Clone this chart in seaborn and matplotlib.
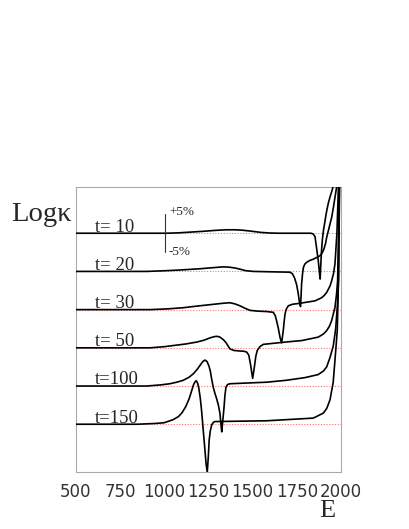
import numpy as np
import pandas as pd
import matplotlib
matplotlib.use("Agg")
import matplotlib.pyplot as plt
import seaborn as sns

# ---- data : E and relative deviation of log kappa in % ----
labels = ["t= 10", "t= 20", "t= 30", "t= 50", "t=100", "t=150"]
offsets = [50, 40, 30, 20, 10, 0]

E_t10 = [500, 1013, 1080, 1150, 1220, 1290, 1350, 1400, 1440, 1480, 1515, 1550, 1600, 1650,
         1830, 1843, 1853, 1862, 1871, 1877, 1882, 1886, 1890, 1895, 1901, 1909, 1915, 1922,
         1930, 1940, 1950, 1956, 1963]
v_t10 = [0, 0, 0.1, 0.3, 0.5, 0.75, 0.9, 0.9, 0.8, 0.6, 0.4, 0.2, 0.05, 0,
         0, -0.2, -0.9, -3.9, -7.0, -9.8, -12.0, -8.0, -4.5, -1.5, 0.8, 3.0, 4.8, 6.5,
         8.2, 9.8, 11.3, 12.4, 16]

E_t20 = [500, 900, 1013, 1100, 1202, 1280, 1334, 1370, 1400, 1428, 1460, 1504, 1600, 1711,
         1725, 1738, 1749, 1757, 1764, 1771, 1774, 1777, 1782, 1787, 1795, 1806, 1825, 1843,
         1865, 1881, 1893, 1903, 1912, 1919, 1933, 1947, 1958, 1966, 1975, 1980]
v_t20 = [0, 0, 0.2, 0.4, 0.7, 1.0, 1.2, 1.1, 0.9, 0.6, 0.2, 0, -0.1, -0.2,
         -0.6, -1.8, -3.5, -5.5, -7.8, -9.2, -6.5, -3.3, -0.8, 1.0, 1.9, 2.4, 2.9, 3.2,
         3.7, 4.1, 4.8, 5.8, 7.2, 8.9, 11.5, 14.1, 17, 19.4, 22, 30]

E_t30 = [500, 920, 1020, 1107, 1180, 1240, 1300, 1340, 1372, 1400, 1428, 1455, 1485, 1530,
         1579, 1617, 1628, 1636, 1645, 1655, 1664, 1673, 1678, 1683, 1690, 1702, 1725, 1758,
         1800, 1853, 1890, 1905, 1919, 1938, 1947, 1958, 1966, 1977, 1986]
v_t30 = [0, 0, 0.2, 0.5, 0.9, 1.2, 1.5, 1.7, 1.8, 1.5, 1.0, 0.4, -0.2, -0.4,
         -0.5, -0.7, -1.6, -3.0, -4.8, -7.3, -8.7, -5.6, -3.3, -1.2, 0.1, 1.0, 1.4, 1.6,
         1.9, 2.3, 3.1, 3.7, 4.5, 6.2, 7.5, 9.5, 12, 20, 33]

E_t50 = [500, 919, 1000, 1051, 1120, 1183, 1225, 1258, 1285, 1300, 1315, 1335, 1350, 1362,
         1372, 1395, 1420, 1450, 1466, 1478, 1489, 1495, 1500, 1505, 1511, 1518, 1526, 1541,
         1560, 1620, 1683, 1778, 1871, 1900, 1919, 1935, 1947, 1966, 1975, 1981, 1990]
v_t50 = [0, 0, 0.3, 0.6, 1.0, 1.5, 2.0, 2.6, 2.95, 3.0, 2.8, 2.1, 1.3, 0.4,
         -0.3, -0.7, -0.8, -0.9, -1.1, -1.9, -4.6, -6.5, -8.0, -6.5, -4.6, -2.2, -0.7, 0.3,
         0.9, 1.2, 1.5, 1.9, 2.8, 3.6, 4.5, 5.7, 7.1, 10.6, 14.1, 17.6, 40]

E_t100 = [500, 900, 980, 1032, 1070, 1107, 1140, 1164, 1185, 1202, 1218, 1230, 1242, 1252,
          1260, 1268, 1277, 1287, 1296, 1306, 1315, 1320, 1325, 1330, 1338, 1343, 1349, 1358,
          1372, 1579, 1690, 1796, 1871, 1900, 1919, 1938, 1956, 1970, 1981, 1986, 1992]
v_t100 = [0, 0, 0.3, 0.6, 1.0, 1.5, 2.3, 3.2, 4.3, 5.4, 6.4, 6.8, 6.4, 5.3,
          4.0, 1.8, -0.3, -2.0, -3.3, -5.0, -7.2, -9.8, -12.0, -9.5, -5.6, -2.5, -0.3, 0.4,
          0.6, 1.0, 1.5, 2.2, 3.0, 3.9, 5.0, 7.5, 10.4, 15, 22, 28, 60]

E_t150 = [500, 850, 950, 1000, 1050, 1080, 1100, 1120, 1140, 1155, 1165, 1174, 1181, 1188,
          1195, 1203, 1210, 1216, 1222, 1230, 1236, 1243, 1249, 1254, 1260, 1268, 1278, 1287,
          1579, 1843, 1900, 1920, 1938, 1956, 1972, 1979, 1986, 1994]
v_t150 = [0, 0, 0.2, 0.4, 1.2, 2.0, 3.0, 4.5, 6.6, 8.8, 10.3, 11.1, 11.4, 10.8,
          9.5, 7.0, 4.0, 0.8, -2.5, -6.8, -10.2, -12.6, -8.5, -4.1, -1.8, -0.2, 0.5, 0.7,
          0.9, 1.6, 2.9, 4.2, 6.4, 11, 20.3, 24.7, 38, 70]

xticks = [500, 750, 1000, 1250, 1500, 1750, 2000]

series = [(E_t10, v_t10), (E_t20, v_t20), (E_t30, v_t30),
          (E_t50, v_t50), (E_t100, v_t100), (E_t150, v_t150)]

rows = []
for lab, off, (E, v) in zip(labels, offsets, series):
    for e, d in zip(E, v):
        rows.append({"E": e, "y": off + d, "t": lab})
df = pd.DataFrame(rows)

# ---- figure ----
sns.set_style("white")
plt.rcParams["font.family"] = ["DejaVu Sans"]

fig = plt.figure(figsize=(4.09, 5.29), dpi=100)
ax = fig.add_axes([0.1858, 0.1078, 0.6479, 0.5387])

for off in offsets:
    ax.axhline(off, color="#ff7070", ls=(0, (1, 1.5)), lw=0.8, zorder=1)

sns.lineplot(data=df, x="E", y="y", units="t", estimator=None, sort=False,
             color="black", lw=1.2, ax=ax, zorder=3, legend=False)

ax.set_xlim(500, 2000)
ax.set_ylim(-12.5, 62.1)
ax.set_xlabel("")
ax.set_ylabel("")
ax.set_yticks([])
ax.set_xticks(xticks)
ax.set_xticklabels([str(x) for x in xticks])
ax.set_xticks(np.arange(500, 2001, 50), minor=True)
ax.tick_params(axis="x", which="major", direction="in", length=5, width=0.7,
               color="#999999", labelsize=12, labelcolor="#333333", pad=8)
ax.tick_params(axis="x", which="minor", direction="in", length=3, width=0.6,
               color="#999999")
for s in ax.spines.values():
    s.set_color("#aaaaaa")
    s.set_linewidth(0.8)
    s.set_visible(True)

serif = ["Liberation Serif", "DejaVu Serif"]
for lab, off in zip(labels, offsets):
    ax.text(607, off + 0.45, lab, family=serif, fontsize=13.5, va="baseline", ha="left")

# scale bar
ax.plot([1004, 1004], [45, 55], color="#333333", lw=0.8, zorder=4)
ax.text(1026, 54.8, "+5%", family=serif, fontsize=9.5, va="baseline", ha="left")
ax.text(1026, 44.3, "-5%", family=serif, fontsize=9.5, va="baseline", ha="left")

fig.text(11 / 409, 1 - 220.7 / 529, "Log\u03ba", family=serif, fontsize=20.5,
         va="baseline", ha="left")
fig.text(327 / 409, 1 - 516.7 / 529, "E", family=serif, fontsize=19,
         va="baseline", ha="center")

fig.savefig("out.png", dpi=100)
